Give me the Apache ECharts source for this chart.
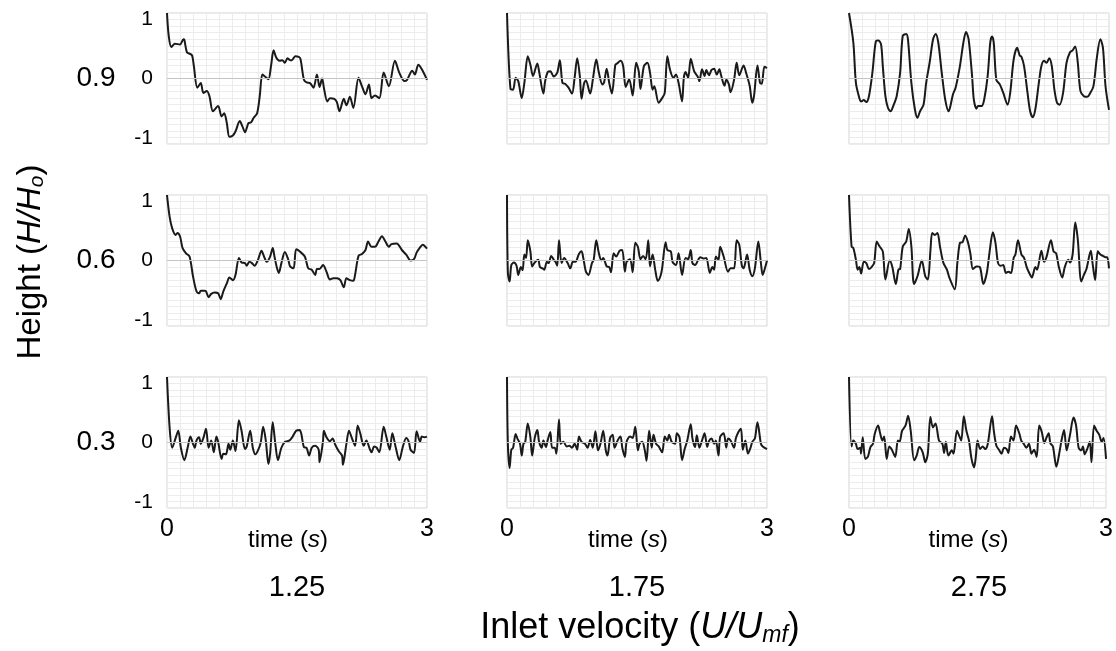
<!DOCTYPE html>
<html><head><meta charset="utf-8">
<script src="https://cdn.jsdelivr.net/npm/echarts@6/dist/echarts.min.js"></script>
<style>html,body{margin:0;padding:0;background:#fff}#c{width:1116px;height:651px}</style>
</head><body><div id="c"></div>
<script>
// ---- data (time in s, normalised signal) ----
const rowLabels = ['0.9', '0.6', '0.3'];
const colLabels = ['1.25', '1.75', '2.75'];
const yTickLabels = [-1, 0, 1];
const xTickLabels = [0, 3];

const h09_u125 = [[0,1.00],[0.02,0.65],[0.05,0.48],[0.09,0.53],[0.15,0.52],[0.19,0.60],[0.20,0.59],[0.23,0.40],[0.26,0.38],[0.29,0.35],[0.31,0.19],[0.35,-0.14],[0.39,-0.07],[0.42,-0.22],[0.46,-0.19],[0.49,-0.27],[0.53,-0.50],[0.59,-0.42],[0.63,-0.58],[0.66,-0.53],[0.69,-0.68],[0.72,-0.89],[0.76,-0.87],[0.79,-0.81],[0.84,-0.65],[0.87,-0.73],[0.90,-0.82],[0.94,-0.68],[0.97,-0.67],[1.00,-0.60],[1.04,-0.53],[1.07,-0.27],[1.10,0.06],[1.13,0.03],[1.17,-0.01],[1.20,0.19],[1.23,0.43],[1.26,0.32],[1.30,0.27],[1.33,0.28],[1.36,0.24],[1.39,0.31],[1.42,0.28],[1.44,0.28],[1.48,0.34],[1.52,0.33],[1.54,0.30],[1.58,-0.02],[1.61,-0.06],[1.65,-0.07],[1.69,-0.14],[1.73,0.06],[1.76,-0.13],[1.79,0.00],[1.81,-0.14],[1.85,-0.35],[1.88,-0.30],[1.93,-0.31],[1.96,-0.36],[1.99,-0.50],[2.04,-0.31],[2.07,-0.41],[2.11,-0.28],[2.15,-0.45],[2.21,0.01],[2.25,-0.12],[2.29,-0.24],[2.33,-0.09],[2.36,-0.30],[2.40,-0.26],[2.45,-0.30],[2.50,0.09],[2.56,-0.12],[2.63,0.27],[2.68,0.09],[2.74,-0.04],[2.77,-0.02],[2.83,0.12],[2.86,0.06],[2.90,0.21],[2.94,0.14],[3.00,-0.02]];

const h09_u175 = [[0,1.00],[0.04,-0.16],[0.07,-0.17],[0.10,0.01],[0.13,-0.04],[0.17,-0.30],[0.20,-0.07],[0.24,0.34],[0.27,0.21],[0.30,0.04],[0.35,0.23],[0.37,0.11],[0.42,-0.23],[0.44,-0.04],[0.47,0.10],[0.50,0.11],[0.54,0.03],[0.58,0.09],[0.61,0.28],[0.64,-0.07],[0.67,-0.08],[0.71,-0.14],[0.75,-0.23],[0.78,0.01],[0.81,0.31],[0.84,0.04],[0.86,-0.31],[0.89,-0.07],[0.91,-0.03],[0.96,-0.23],[0.99,-0.02],[1.03,0.29],[1.06,0.09],[1.10,-0.09],[1.12,-0.06],[1.15,0.15],[1.18,-0.07],[1.21,-0.23],[1.25,0.21],[1.27,0.23],[1.31,0.27],[1.34,0.19],[1.37,-0.13],[1.41,-0.01],[1.45,-0.26],[1.49,0.24],[1.52,0.11],[1.54,-0.16],[1.58,0.19],[1.62,0.24],[1.65,0.09],[1.68,-0.17],[1.70,-0.12],[1.75,-0.37],[1.79,-0.30],[1.82,-0.22],[1.85,0.34],[1.88,0.14],[1.92,0.01],[1.95,0.06],[1.98,-0.07],[2.02,-0.35],[2.04,0.01],[2.06,0.10],[2.09,0.01],[2.12,0.30],[2.16,0.11],[2.20,0.03],[2.22,-0.04],[2.25,0.14],[2.28,0.04],[2.30,0.13],[2.33,0.05],[2.36,0.13],[2.39,0.15],[2.42,0.06],[2.45,0.14],[2.47,0.05],[2.51,-0.11],[2.53,-0.02],[2.56,-0.09],[2.58,-0.21],[2.62,-0.02],[2.65,0.24],[2.68,0.05],[2.73,0.20],[2.76,0.08],[2.80,-0.11],[2.83,-0.37],[2.85,-0.27],[2.89,0.20],[2.92,-0.07],[2.94,-0.08],[2.97,0.18],[3.00,0.16]];

const h09_u275 = [[0,1.00],[0.05,0.55],[0.08,-0.07],[0.12,-0.30],[0.14,-0.35],[0.17,-0.33],[0.20,-0.36],[0.23,-0.27],[0.27,0.09],[0.31,0.57],[0.34,0.58],[0.37,0.52],[0.39,0.19],[0.42,-0.27],[0.45,-0.45],[0.48,-0.50],[0.51,-0.42],[0.55,-0.27],[0.59,0.09],[0.62,0.65],[0.66,0.68],[0.68,0.60],[0.72,-0.07],[0.76,-0.47],[0.79,-0.60],[0.82,-0.50],[0.86,-0.40],[0.89,-0.07],[0.93,0.24],[0.97,0.60],[1.00,0.68],[1.03,0.55],[1.07,0.09],[1.11,-0.32],[1.15,-0.50],[1.17,-0.42],[1.20,-0.24],[1.23,-0.14],[1.28,0.19],[1.32,0.55],[1.35,0.71],[1.38,0.60],[1.42,0.04],[1.44,-0.32],[1.47,-0.46],[1.49,-0.42],[1.53,-0.42],[1.56,-0.32],[1.60,0.04],[1.63,0.55],[1.65,0.64],[1.67,0.55],[1.70,-0.02],[1.74,-0.09],[1.78,-0.22],[1.83,-0.40],[1.86,-0.22],[1.90,0.29],[1.94,0.47],[1.97,0.35],[1.99,0.33],[2.02,0.19],[2.06,-0.22],[2.09,-0.50],[2.12,-0.59],[2.15,-0.47],[2.19,-0.07],[2.22,0.19],[2.25,0.27],[2.28,0.24],[2.31,0.31],[2.34,0.19],[2.37,-0.17],[2.40,-0.37],[2.43,-0.40],[2.47,-0.22],[2.51,0.24],[2.55,0.40],[2.58,0.43],[2.61,0.49],[2.64,0.24],[2.67,-0.19],[2.71,-0.27],[2.75,-0.28],[2.78,-0.23],[2.82,-0.12],[2.86,0.32],[2.90,0.60],[2.93,0.47],[2.96,-0.12],[3.00,-0.48]];

const h06_u125 = [[0,1.00],[0.03,0.67],[0.06,0.49],[0.10,0.39],[0.12,0.42],[0.15,0.37],[0.18,0.19],[0.22,0.11],[0.26,0.06],[0.30,-0.24],[0.34,-0.47],[0.37,-0.50],[0.39,-0.46],[0.43,-0.46],[0.45,-0.47],[0.48,-0.56],[0.51,-0.51],[0.55,-0.49],[0.59,-0.50],[0.62,-0.59],[0.65,-0.47],[0.69,-0.35],[0.72,-0.26],[0.76,-0.30],[0.79,-0.22],[0.83,0.04],[0.86,-0.03],[0.90,-0.04],[0.92,-0.08],[0.95,-0.02],[0.98,-0.04],[1.01,-0.08],[1.05,0.01],[1.09,0.15],[1.12,0.06],[1.15,-0.02],[1.19,0.06],[1.22,0.19],[1.24,0.06],[1.27,-0.12],[1.29,-0.19],[1.32,-0.04],[1.36,0.13],[1.40,0.01],[1.42,-0.09],[1.46,-0.12],[1.49,0.17],[1.53,0.14],[1.59,0.06],[1.63,-0.12],[1.67,-0.14],[1.71,-0.22],[1.73,-0.13],[1.76,-0.13],[1.80,-0.07],[1.84,-0.17],[1.88,-0.29],[1.92,-0.27],[1.96,-0.27],[2.00,-0.30],[2.04,-0.41],[2.07,-0.27],[2.11,-0.30],[2.15,-0.31],[2.17,-0.22],[2.21,0.07],[2.25,0.10],[2.29,0.16],[2.32,0.29],[2.36,0.21],[2.40,0.21],[2.44,0.29],[2.48,0.37],[2.52,0.29],[2.56,0.21],[2.59,0.25],[2.65,0.26],[2.71,0.16],[2.76,0.09],[2.81,0.00],[2.85,0.02],[2.88,0.12],[2.92,0.20],[2.95,0.24],[3.00,0.18]];

const h06_u175 = [[0,1.00],[0.01,-0.19],[0.03,-0.32],[0.05,-0.07],[0.08,-0.03],[0.11,-0.08],[0.13,-0.22],[0.16,-0.10],[0.18,-0.15],[0.20,0.09],[0.22,0.04],[0.24,0.31],[0.27,0.14],[0.29,-0.09],[0.32,-0.03],[0.36,0.01],[0.38,-0.10],[0.41,-0.12],[0.43,-0.14],[0.46,-0.02],[0.48,-0.04],[0.51,0.07],[0.54,0.01],[0.56,-0.02],[0.58,-0.08],[0.60,0.31],[0.63,-0.04],[0.66,0.04],[0.70,-0.04],[0.73,-0.12],[0.76,-0.02],[0.79,-0.02],[0.83,0.10],[0.86,0.14],[0.88,0.04],[0.91,-0.17],[0.94,-0.22],[0.98,-0.04],[1.00,0.01],[1.03,0.31],[1.06,0.11],[1.09,0.00],[1.11,0.04],[1.15,-0.09],[1.18,-0.10],[1.20,-0.18],[1.23,0.11],[1.26,0.06],[1.30,0.15],[1.33,0.16],[1.36,-0.17],[1.38,-0.02],[1.42,0.02],[1.45,-0.18],[1.48,0.27],[1.51,0.21],[1.54,0.02],[1.57,0.07],[1.60,0.02],[1.63,0.31],[1.65,-0.09],[1.68,0.09],[1.71,-0.14],[1.74,-0.31],[1.77,-0.24],[1.79,-0.12],[1.83,0.28],[1.85,0.16],[1.89,0.14],[1.91,-0.02],[1.95,-0.07],[1.98,0.11],[2.02,-0.22],[2.06,0.04],[2.09,0.02],[2.12,0.16],[2.14,-0.04],[2.17,-0.07],[2.21,0.02],[2.23,0.05],[2.27,0.03],[2.30,0.04],[2.34,-0.19],[2.37,-0.10],[2.39,-0.14],[2.41,0.06],[2.44,0.01],[2.46,0.21],[2.50,0.06],[2.55,-0.17],[2.58,-0.12],[2.62,-0.12],[2.65,0.31],[2.68,0.24],[2.71,-0.08],[2.73,-0.12],[2.77,0.09],[2.80,-0.14],[2.83,-0.24],[2.86,-0.12],[2.90,0.29],[2.93,-0.04],[2.95,-0.22],[2.98,-0.10],[3.00,0.00]];

const h06_u275 = [[0,1.00],[0.03,0.21],[0.05,0.19],[0.08,0.01],[0.10,-0.14],[0.12,-0.10],[0.14,-0.20],[0.17,-0.02],[0.20,-0.04],[0.23,-0.13],[0.26,-0.10],[0.29,-0.04],[0.32,0.29],[0.35,0.22],[0.39,0.14],[0.42,-0.29],[0.47,0.00],[0.50,-0.10],[0.54,-0.36],[0.57,-0.14],[0.59,-0.13],[0.62,0.21],[0.66,0.29],[0.69,0.48],[0.72,0.21],[0.75,-0.36],[0.79,-0.24],[0.84,0.00],[0.88,-0.24],[0.91,-0.29],[0.94,0.16],[0.96,0.42],[0.99,0.39],[1.02,0.42],[1.05,0.21],[1.09,-0.04],[1.13,-0.14],[1.16,-0.27],[1.22,-0.44],[1.25,-0.04],[1.28,0.27],[1.31,0.28],[1.34,0.38],[1.37,0.29],[1.40,0.11],[1.43,-0.13],[1.47,-0.09],[1.51,-0.10],[1.55,-0.36],[1.59,-0.19],[1.62,0.11],[1.66,0.43],[1.69,0.27],[1.72,-0.04],[1.75,-0.08],[1.78,-0.07],[1.81,-0.19],[1.84,-0.17],[1.87,-0.19],[1.90,0.04],[1.92,0.09],[1.95,0.31],[1.99,0.09],[2.02,0.04],[2.05,-0.10],[2.08,-0.19],[2.11,-0.26],[2.15,-0.10],[2.17,-0.14],[2.22,0.15],[2.25,-0.02],[2.28,0.06],[2.33,0.31],[2.36,0.14],[2.39,0.11],[2.42,-0.09],[2.46,-0.26],[2.49,-0.10],[2.53,0.01],[2.55,-0.03],[2.58,0.09],[2.61,0.58],[2.64,0.32],[2.68,-0.32],[2.71,-0.22],[2.74,-0.13],[2.79,0.15],[2.81,-0.04],[2.84,-0.30],[2.87,0.14],[2.90,0.09],[2.93,0.07],[2.96,0.05],[2.98,0.05],[3.00,-0.12]];

const h03_u125 = [[0,1.00],[0.03,0.23],[0.06,-0.08],[0.10,0.07],[0.13,0.18],[0.16,-0.08],[0.20,-0.27],[0.24,-0.07],[0.27,0.09],[0.30,-0.02],[0.32,-0.08],[0.34,0.03],[0.37,0.08],[0.39,-0.02],[0.42,0.07],[0.45,0.21],[0.48,-0.08],[0.51,0.03],[0.54,-0.15],[0.57,0.09],[0.59,0.01],[0.63,-0.25],[0.65,-0.17],[0.68,-0.18],[0.71,-0.02],[0.73,-0.11],[0.76,0.03],[0.79,-0.13],[0.83,0.34],[0.86,0.18],[0.90,-0.10],[0.92,-0.06],[0.96,0.18],[0.99,-0.08],[1.02,-0.18],[1.05,-0.12],[1.08,-0.01],[1.11,0.24],[1.14,0.03],[1.17,-0.33],[1.19,-0.17],[1.22,0.31],[1.25,-0.02],[1.28,-0.27],[1.32,-0.08],[1.36,0.01],[1.39,0.02],[1.42,0.04],[1.45,0.09],[1.49,0.18],[1.53,0.19],[1.55,0.13],[1.58,-0.07],[1.61,-0.08],[1.64,-0.20],[1.67,-0.08],[1.71,-0.05],[1.75,-0.11],[1.76,-0.30],[1.80,0.02],[1.81,0.18],[1.84,0.08],[1.88,0.02],[1.91,0.06],[1.94,-0.03],[1.98,-0.13],[2.02,-0.20],[2.03,-0.34],[2.07,-0.02],[2.10,0.18],[2.13,0.08],[2.17,-0.05],[2.20,0.26],[2.23,0.14],[2.27,-0.05],[2.30,0.03],[2.34,-0.10],[2.36,-0.15],[2.39,-0.06],[2.42,-0.08],[2.45,-0.15],[2.50,0.24],[2.53,0.09],[2.57,-0.11],[2.60,0.14],[2.64,-0.08],[2.68,-0.27],[2.72,-0.07],[2.76,0.07],[2.79,0.01],[2.81,-0.11],[2.85,-0.16],[2.88,0.17],[2.92,0.01],[2.94,0.09],[2.97,0.08],[3.00,0.09]];

const h03_u175 = [[0,1.00],[0.01,-0.02],[0.03,-0.39],[0.05,-0.11],[0.07,-0.08],[0.10,0.13],[0.12,0.06],[0.15,-0.02],[0.17,-0.20],[0.19,-0.02],[0.21,0.01],[0.24,0.29],[0.27,0.08],[0.29,-0.20],[0.32,0.07],[0.35,0.19],[0.37,0.01],[0.40,-0.08],[0.42,0.03],[0.45,-0.07],[0.47,0.04],[0.50,0.16],[0.52,-0.08],[0.55,-0.08],[0.57,-0.17],[0.60,0.35],[0.62,-0.02],[0.65,0.01],[0.69,-0.06],[0.72,-0.05],[0.75,-0.08],[0.78,-0.02],[0.81,-0.11],[0.83,0.09],[0.86,0.01],[0.90,-0.02],[0.93,-0.08],[0.96,0.04],[0.99,-0.08],[1.02,0.17],[1.05,-0.12],[1.08,-0.01],[1.11,0.18],[1.14,-0.12],[1.16,-0.20],[1.19,0.07],[1.22,0.12],[1.24,-0.08],[1.28,0.04],[1.31,0.09],[1.33,-0.08],[1.36,-0.22],[1.38,0.01],[1.42,0.09],[1.45,0.07],[1.48,0.24],[1.51,-0.12],[1.53,-0.02],[1.56,0.01],[1.59,-0.12],[1.61,-0.28],[1.64,0.18],[1.67,-0.08],[1.69,0.12],[1.72,-0.02],[1.75,-0.06],[1.79,-0.15],[1.82,0.09],[1.85,0.03],[1.87,0.12],[1.90,0.01],[1.94,-0.02],[1.96,0.14],[1.99,0.08],[2.02,-0.27],[2.05,-0.10],[2.08,0.03],[2.12,0.28],[2.14,0.06],[2.17,-0.07],[2.19,0.11],[2.22,-0.08],[2.25,0.03],[2.28,0.14],[2.31,-0.07],[2.33,0.02],[2.36,0.06],[2.39,-0.02],[2.41,0.03],[2.44,-0.20],[2.46,0.09],[2.50,0.14],[2.53,-0.08],[2.55,0.06],[2.58,0.03],[2.62,-0.08],[2.64,0.06],[2.67,0.16],[2.70,0.21],[2.72,-0.11],[2.75,0.03],[2.78,-0.17],[2.81,-0.08],[2.83,0.01],[2.86,0.06],[2.89,0.31],[2.93,-0.02],[2.95,-0.06],[3.00,-0.10]];

const h03_u275 = [[0,1.00],[0.03,-0.06],[0.05,0.03],[0.08,-0.02],[0.10,-0.10],[0.13,-0.08],[0.14,-0.17],[0.16,0.08],[0.19,-0.25],[0.22,-0.22],[0.25,-0.07],[0.28,-0.02],[0.30,0.13],[0.34,0.26],[0.36,0.16],[0.39,0.03],[0.41,0.09],[0.44,-0.25],[0.47,-0.06],[0.50,-0.11],[0.54,-0.22],[0.57,0.03],[0.59,0.01],[0.62,0.18],[0.66,0.26],[0.69,0.41],[0.72,0.18],[0.76,-0.27],[0.79,-0.20],[0.82,-0.07],[0.86,-0.15],[0.89,-0.30],[0.92,-0.17],[0.95,0.39],[0.98,0.23],[1.01,0.29],[1.05,0.03],[1.09,-0.02],[1.11,-0.16],[1.13,0.01],[1.16,-0.20],[1.20,-0.12],[1.22,-0.17],[1.26,0.18],[1.29,0.09],[1.31,0.03],[1.34,0.40],[1.37,0.18],[1.40,0.03],[1.43,-0.25],[1.46,-0.38],[1.48,-0.22],[1.50,0.03],[1.53,-0.10],[1.56,-0.06],[1.59,-0.10],[1.62,-0.02],[1.67,0.40],[1.69,0.18],[1.72,-0.05],[1.75,-0.11],[1.78,-0.17],[1.81,-0.08],[1.84,-0.10],[1.86,-0.16],[1.89,0.09],[1.92,0.03],[1.95,0.26],[1.99,0.13],[2.01,0.03],[2.04,-0.02],[2.07,-0.08],[2.10,-0.02],[2.13,-0.17],[2.16,-0.11],[2.19,-0.22],[2.22,0.26],[2.25,0.16],[2.28,-0.01],[2.30,0.06],[2.33,0.14],[2.35,-0.01],[2.38,-0.06],[2.42,-0.37],[2.46,-0.12],[2.48,0.03],[2.51,0.19],[2.54,-0.12],[2.58,0.12],[2.62,0.38],[2.65,0.26],[2.68,-0.08],[2.71,-0.12],[2.73,-0.06],[2.75,-0.18],[2.78,-0.10],[2.81,0.01],[2.83,-0.30],[2.86,0.26],[2.89,0.18],[2.92,0.12],[2.95,0.01],[2.97,0.07],[3.00,-0.25]];

const panels = [
  [h09_u125, h09_u175, h09_u275],
  [h06_u125, h06_u175, h06_u275],
  [h03_u125, h03_u175, h03_u275]
];

// ---- layout ----
const FONT = 'Liberation Sans, Arial, sans-serif';
const colLeft = [167, 507, 849];
const colWidth = 260;
const rowTop = [13, 195, 377];
const rowHeight = 131;

const grid = [], xAxis = [], yAxis = [], series = [];
for (let r = 0; r < 3; r++) {
  for (let c = 0; c < 3; c++) {
    const i = r * 3 + c;
    grid.push({
      left: colLeft[c], top: rowTop[r], width: colWidth, height: rowHeight,
      show: true, borderColor: '#d2d2d2', borderWidth: 1, backgroundColor: 'transparent'
    });
    const bottom = r === 2;
    xAxis.push({
      gridIndex: i, type: 'value', min: 0, max: 3, interval: 0.15,
      axisLine: { show: false }, axisTick: { show: false },
      splitLine: { show: true, lineStyle: { color: '#ececec', width: 1 } },
      axisLabel: bottom ? {
        show: true, fontSize: 25, color: '#000', fontFamily: FONT, margin: 9,
        formatter: v => (Math.abs(v - xTickLabels[0]) < 1e-6 || Math.abs(v - xTickLabels[1]) < 1e-6) ? String(Math.round(v)) : ''
      } : { show: false },
      name: bottom ? '{n|time (}{i|s}{n|)}' : '',
      nameLocation: 'middle', nameGap: 20, nameMoveOverlap: false,
      nameTextStyle: {
        padding: [0, 18, 0, 0],
        rich: {
          n: { fontSize: 24, color: '#000', fontFamily: FONT },
          i: { fontSize: 24, color: '#000', fontFamily: FONT, fontStyle: 'italic' }
        }
      }
    });
    yAxis.push({
      gridIndex: i, type: 'value', min: -1, max: 1, interval: 0.1,
      axisLine: { show: false }, axisTick: { show: false }, axisLabel: { show: false },
      splitLine: { show: true, lineStyle: { color: '#ececec', width: 1 } }
    });
    series.push({
      type: 'line', xAxisIndex: i, yAxisIndex: i, data: panels[r][c],
      showSymbol: false, smooth: 0.3, animation: false,
      lineStyle: { color: '#1a1a1a', width: 2 },
      markLine: {
        silent: true, symbol: 'none', label: { show: false }, animation: false,
        lineStyle: { color: '#c4c4c4', type: 'solid', width: 1 },
        data: [{ yAxis: 0 }]
      },
      z: 3
    });
  }
}
// tick-label axes for the first column
for (let r = 0; r < 3; r++) {
  yAxis.push({
    gridIndex: r * 3, type: 'value', min: -1.1, max: 1.1, position: 'left',
    axisLine: { show: false }, axisTick: { show: false }, splitLine: { show: false },
    axisLabel: { show: true, customValues: yTickLabels, fontSize: 21, color: '#000', fontFamily: FONT, margin: 14 }
  });
}

const graphic = [];
rowLabels.forEach((t, r) => {
  graphic.push({ type: 'text', x: 96, y: rowTop[r] + rowHeight / 2,
    style: { text: t, fontSize: 28, fontFamily: FONT, fill: '#000', align: 'center', verticalAlign: 'middle' } });
});
colLabels.forEach((t, c) => {
  graphic.push({ type: 'text', x: colLeft[c] + colWidth / 2, y: 588,
    style: { text: t, fontSize: 29, fontFamily: FONT, fill: '#000', align: 'center', verticalAlign: 'middle' } });
});
graphic.push({ type: 'text', x: 640, y: 628,
  style: {
    text: '{n|Inlet velocity (}{i|U/U}{s|mf}{n|)}', align: 'center', verticalAlign: 'middle',
    rich: {
      n: { fontSize: 36, fontFamily: FONT, fill: '#000', height: 42 },
      i: { fontSize: 36, fontFamily: FONT, fill: '#000', fontStyle: 'italic', height: 42 },
      s: { fontSize: 23, fontFamily: FONT, fill: '#000', fontStyle: 'italic', verticalAlign: 'bottom', height: 27 }
    }
  } });
graphic.push({ type: 'text', x: 31, y: 262, rotation: Math.PI / 2,
  style: {
    text: '{n|Height (}{i|H/H}{s|o}{n|)}', align: 'center', verticalAlign: 'middle',
    rich: {
      n: { fontSize: 33, fontFamily: FONT, fill: '#000', height: 38 },
      i: { fontSize: 33, fontFamily: FONT, fill: '#000', fontStyle: 'italic', height: 38 },
      s: { fontSize: 21, fontFamily: FONT, fill: '#000', fontStyle: 'italic', verticalAlign: 'bottom', height: 25 }
    }
  } });

const chart = echarts.init(document.getElementById('c'), null, { renderer: 'canvas' });
chart.setOption({ backgroundColor: '#fff', animation: false, grid, xAxis, yAxis, series, graphic });
</script></body></html>
